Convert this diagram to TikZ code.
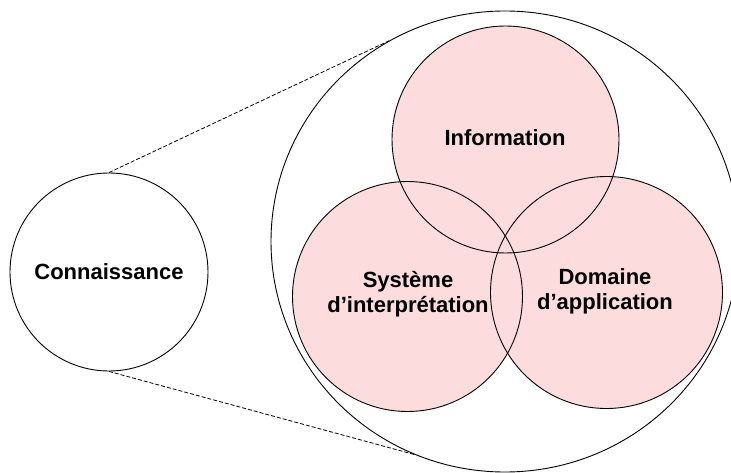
\documentclass[tikz,border=0pt]{standalone}
\usepackage{fontspec}
\setmainfont{Liberation Sans}
\usetikzlibrary{shapes.geometric}
\definecolor{dotpink}{RGB}{252,220,220}
\tikzset{
  ring/.style={circle, draw=black, line width=0.9pt, inner sep=0pt},
  petalline/.style={draw=black, line width=0.9pt},
  lbl/.style={font=\bfseries\fontsize{22}{25}\selectfont, align=center, text=black},
  zoomline/.style={draw=black, line width=0.8pt, dash pattern=on 4pt off 2pt}
}
\begin{document}
\begin{tikzpicture}[x=1pt, y=-1pt]
\useasboundingbox (0,0) rectangle (731,473);
\clip (0,0) rectangle (731,473);
\fill[white] (0,0) rectangle (731,473);
% big outer ellipse
\node[ellipse, draw=black, line width=0.9pt, minimum width=468pt, minimum height=461pt, inner sep=0pt] (big) at (505,241.5) {};
% small circle
\node[ring, minimum size=198pt] (conn) at (109,272) {};
\node[lbl] (connt) at (109,272) {Connaissance};
% dashed zoom lines
\draw[zoomline] (conn.north) -- (big.120.7);
\draw[zoomline] (conn.south) -- (big.247);
% petal fills
\fill[dotpink] (505.5,139.5) circle (113.5pt);
\fill[dotpink] (407.5,296.5) circle (115pt);
\fill[dotpink] (606.5,292.5) circle (116pt);
% petal outlines
\node[circle, petalline, minimum size=227pt, inner sep=0pt] (info) at (505.5,139.5) {};
\node[circle, petalline, minimum size=230pt, inner sep=0pt] (sys) at (407.5,296.5) {};
\node[circle, petalline, minimum size=232pt, inner sep=0pt] (dom) at (606.5,292.5) {};
% labels
\node[lbl] (infot) at (505,138) {Information};
\node[lbl] (syst) at (408,294.5) {Système\\d’interprétation};
\node[lbl] (domt) at (605,291.5) {Domaine\\d’application};
\end{tikzpicture}
\end{document}
